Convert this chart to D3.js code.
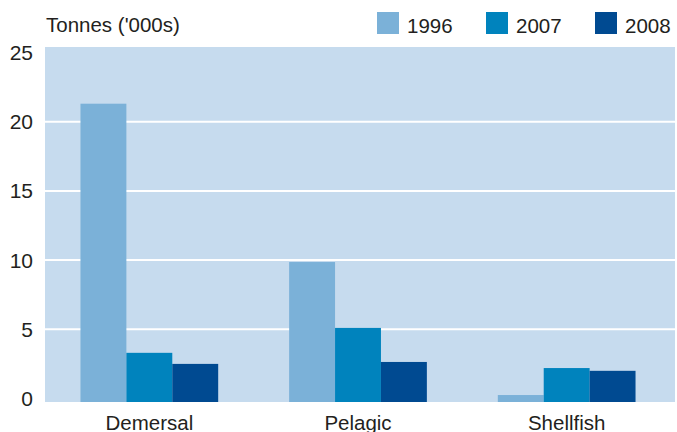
<!DOCTYPE html>
<html>
<head>
<meta charset="utf-8">
<script src="https://cdn.jsdelivr.net/npm/d3@7"></script>
<style>
  body { margin: 0; background: #fff; }
  text { font-family: "Liberation Sans", Arial, Helvetica, sans-serif; fill: #231f20; }
</style>
</head>
<body>
<div id="chart"></div>
<script>
// data
var categories = ["Demersal", "Pelagic", "Shellfish"];
var years = ["1996", "2007", "2008"];
var values1996 = [21.3, 9.86, 0.25];
var values2007 = [3.3, 5.1, 2.2];
var values2008 = [2.5, 2.64, 2.0];
var yTicks = [0, 5, 10, 15, 20, 25];

var colors = ["#7bb1d8", "#0083bd", "#004a91"];

var width = 677, height = 432;
var plotLeft = 45, plotRight = 675, plotTop = 47, plotBottom = 402;

var series = [values1996, values2007, values2008];
var data = categories.map(function(c, i) {
  return { cat: c, vals: years.map(function(y, j) { return { year: y, value: series[j][i] }; }) };
});

var svg = d3.select("#chart").append("svg")
  .attr("width", width)
  .attr("height", height);

var y = d3.scaleLinear().domain([0, 25]).range([398.5, 52.5]);

var x0 = d3.scaleBand()
  .domain(categories)
  .range([45, 671])
  .paddingInner(0.34)
  .paddingOuter(0.17);

var x1 = d3.scaleBand()
  .domain(years)
  .range([0, x0.bandwidth()]);

var color = d3.scaleOrdinal().domain(years).range(colors);

// background panel
svg.append("rect")
  .attr("x", plotLeft)
  .attr("y", plotTop)
  .attr("width", plotRight - plotLeft)
  .attr("height", plotBottom - plotTop)
  .attr("fill", "#c6dbee");

// white gridlines
svg.selectAll(".grid")
  .data(yTicks.filter(function(d) { return d > 0 && d < 25; }))
  .enter()
  .append("line")
  .attr("x1", plotLeft)
  .attr("x2", plotRight)
  .attr("y1", function(d) { return y(d); })
  .attr("y2", function(d) { return y(d); })
  .attr("stroke", "#fff")
  .attr("stroke-width", 2);

// y tick labels
svg.selectAll(".ytick")
  .data(yTicks)
  .enter()
  .append("text")
  .attr("x", 33)
  .attr("y", function(d) { return y(d); })
  .attr("dy", "0.36em")
  .attr("text-anchor", "end")
  .style("font-size", "21px")
  .text(function(d) { return d; });

// bars
var groups = svg.selectAll(".group")
  .data(data)
  .enter()
  .append("g")
  .attr("transform", function(d) { return "translate(" + x0(d.cat) + ",0)"; });

groups.selectAll("rect")
  .data(function(d) { return d.vals; })
  .enter()
  .append("rect")
  .attr("x", function(d) { return x1(d.year); })
  .attr("width", x1.bandwidth())
  .attr("y", function(d) { return y(d.value); })
  .attr("height", function(d) { return plotBottom - y(d.value); })
  .attr("fill", function(d) { return color(d.year); });

// category labels
svg.selectAll(".xlabel")
  .data(categories)
  .enter()
  .append("text")
  .attr("x", function(d) { return x0(d) + x0.bandwidth() / 2; })
  .attr("y", 430)
  .attr("text-anchor", "middle")
  .style("font-size", "20.5px")
  .text(function(d) { return d; });

// unit title
svg.append("text")
  .attr("x", 46)
  .attr("y", 32)
  .style("font-size", "20.5px")
  .text("Tonnes ('000s)");

// legend
var legendX = [377, 486, 595];
var legend = svg.selectAll(".legend")
  .data(years)
  .enter()
  .append("g")
  .attr("transform", function(d, i) { return "translate(" + legendX[i] + ",12)"; });

legend.append("rect")
  .attr("width", 22)
  .attr("height", 22)
  .attr("fill", function(d) { return color(d); });

legend.append("text")
  .attr("x", 30)
  .attr("y", 20.5)
  .style("font-size", "20.5px")
  .text(function(d) { return d; });
</script>
</body>
</html>
